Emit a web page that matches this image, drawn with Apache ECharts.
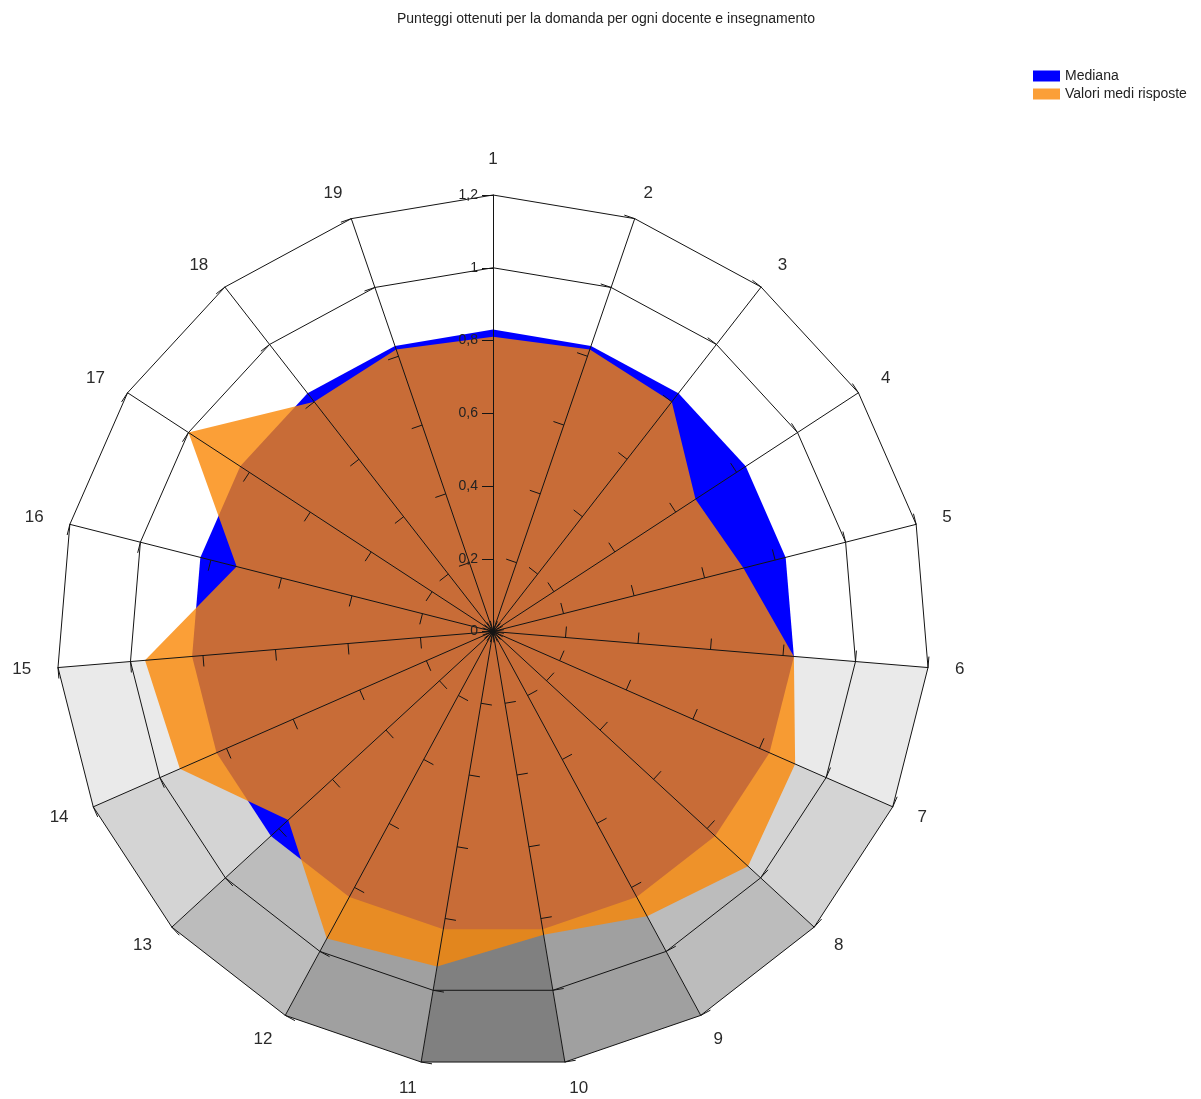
<!DOCTYPE html>
<html>
<head>
<meta charset="utf-8">
<script src="https://cdn.jsdelivr.net/npm/echarts@6/dist/echarts.min.js"></script>
<style>
html,body{margin:0;padding:0;background:#fff;}
#chart{width:1201px;height:1099px;}
</style>
</head>
<body>
<div id="chart"></div>
<script>
// ---- data ----
const titleText = 'Punteggi ottenuti per la domanda per ogni docente e insegnamento';
const indicatorNames = ['1','2','3','4','5','6','7','8','9','10','11','12','13','14','15','16','17','18','19'];
const mediana = [0.83,0.83,0.83,0.83,0.83,0.83,0.83,0.83,0.83,0.83,0.83,0.83,0.83,0.83,0.83,0.83,0.83,0.83,0.83];
const valoriMedi = [0.81,0.82,0.80,0.665,0.71,0.83,0.907,0.953,0.89,0.845,0.934,0.96,0.765,0.94,0.96,0.727,1.0,0.80,0.82];
const seriesNames = ['Mediana','Valori medi risposte'];
const axisMax = 1.2;
const axisSplits = 6;
// background shading of each sector (sector k lies between indicator k and k+1)
const sectorShade = [null,null,null,null,null,'#eaeaea','#d4d4d4','#bcbcbc','#a0a0a0','#808080','#a0a0a0','#bcbcbc','#d4d4d4','#eaeaea',null,null,null,null,null];

// ECharts places indicators counter-clockwise; reorder so they run clockwise
function clockwise(arr){ return [arr[0]].concat(arr.slice(1).reverse()); }

const indicators = clockwise(indicatorNames).map(function(n, i){
  const o = {name: n, min: 0, max: axisMax};
  if (n === '1') o.axisLabel = {show: true};
  return o;
});

const shadeItems = [];
sectorShade.forEach(function(c, k){
  if (!c) return;
  const v = indicatorNames.map(function(_, j){
    return (j === k || j === (k + 1) % indicatorNames.length) ? axisMax : 0;
  });
  shadeItems.push({name: 'sector' + (k + 1), value: clockwise(v), areaStyle: {color: c, opacity: 1}, lineStyle: {opacity: 0}, itemStyle: {color: c}});
});

const lineColor = '#141414';
const noLine = 'rgba(0,0,0,0)';
const chart = echarts.init(document.getElementById('chart'), null, {renderer: 'canvas'});
chart.setOption({
  animation: false,
  backgroundColor: '#ffffff',
  title: {
    text: titleText,
    left: 392, top: 7,
    textStyle: {fontSize: 14, fontWeight: 'normal', color: '#222', fontFamily: 'Liberation Sans, Arial, sans-serif'}
  },
  legend: {
    data: seriesNames,
    orient: 'vertical',
    left: 1028, top: 64,
    itemWidth: 27, itemHeight: 11, itemGap: 4,
    icon: 'rect',
    textStyle: {fontSize: 14, color: '#222', fontFamily: 'Liberation Sans, Arial, sans-serif'}
  },
  radar: {
    z: 10,
    center: [493, 631.5],
    radius: 436.5,
    startAngle: 90,
    shape: 'polygon',
    splitNumber: axisSplits,
    indicator: indicators,
    nameGap: 27,
    axisName: {color: '#2a2a2a', fontSize: 17, fontFamily: 'Liberation Sans, Arial, sans-serif'},
    axisLine: {show: true, lineStyle: {color: lineColor, width: 1}},
    axisTick: {show: true, length: 11, lineStyle: {color: lineColor, width: 1}},
    axisLabel: {
      show: false, margin: 15, fontSize: 14, color: '#222',
      fontFamily: 'Liberation Sans, Arial, sans-serif',
      formatter: function(v){ return String(+(+v).toFixed(1)).replace('.', ','); }
    },
    splitLine: {show: true, lineStyle: {color: [noLine, noLine, noLine, noLine, noLine, lineColor, lineColor], width: 1}},
    splitArea: {show: false}
  },
  series: [
    {
      type: 'radar', name: 'shade', silent: true, symbol: 'none', z: 1,
      lineStyle: {opacity: 0},
      data: shadeItems
    },
    {
      type: 'radar', name: 'Mediana', silent: true, symbol: 'none', z: 2,
      itemStyle: {color: '#0000ff'},
      lineStyle: {opacity: 0},
      areaStyle: {color: '#0000ff', opacity: 1},
      data: [{name: seriesNames[0], value: clockwise(mediana)}]
    },
    {
      type: 'radar', name: 'Valori medi risposte', silent: true, symbol: 'none', z: 3,
      itemStyle: {color: 'rgba(250,135,5,0.8)'},
      lineStyle: {opacity: 0},
      areaStyle: {color: 'rgba(250,135,5,0.8)', opacity: 1},
      data: [{name: seriesNames[1], value: clockwise(valoriMedi)}]
    }
  ]
});
</script>
</body>
</html>
